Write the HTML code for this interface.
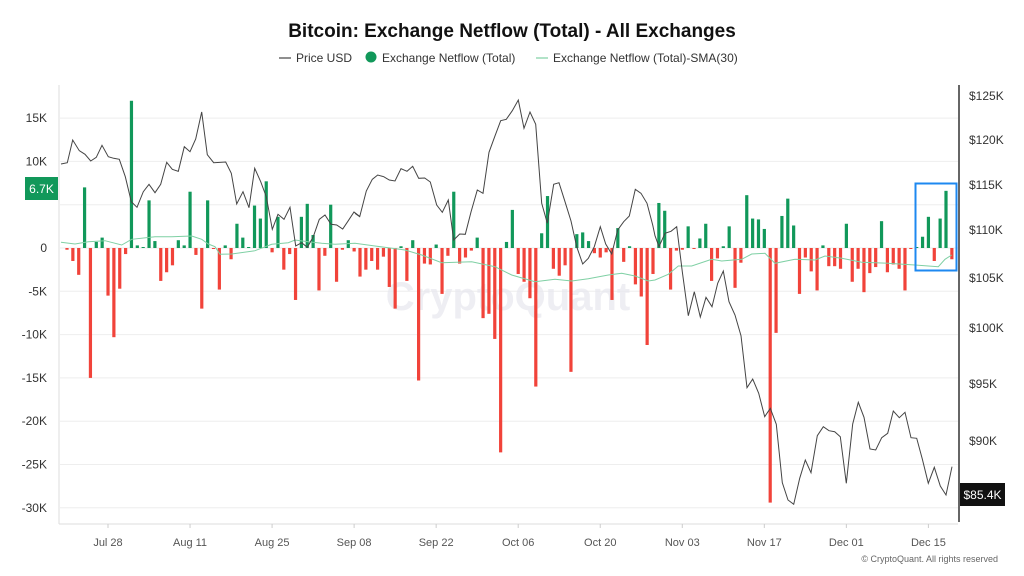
<!DOCTYPE html>
<html><head><meta charset="utf-8"><style>
body{margin:0;background:#fff;font-family:"Liberation Sans",sans-serif;}
svg{display:block}
</style></head><body>
<svg width="1024" height="576" viewBox="0 0 1024 576" xmlns="http://www.w3.org/2000/svg" font-family="Liberation Sans, sans-serif">
<rect width="1024" height="576" fill="#fff"/>
<text x="512" y="37" text-anchor="middle" font-size="19" font-weight="bold" fill="#111">Bitcoin: Exchange Netflow (Total) - All Exchanges</text>
<g font-size="12" fill="#333">
<line x1="279" y1="58" x2="291" y2="58" stroke="#444" stroke-width="1.2"/><text x="296" y="62">Price USD</text>
<circle cx="371" cy="57" r="5.5" fill="#11985a"/><text x="382" y="62">Exchange Netflow (Total)</text>
<line x1="536" y1="58" x2="548" y2="58" stroke="#7fd0a4" stroke-width="1.2"/><text x="553" y="62">Exchange Netflow (Total)-SMA(30)</text>
</g>
<g id="grid" stroke="#eeeeee" stroke-width="1"></g>
<text x="508" y="310" text-anchor="middle" font-size="40" font-weight="bold" fill="#e8e8ee" opacity="0.7">CryptoQuant</text>
<g id="bars"></g>
<polyline id="sma" fill="none" stroke="#7fd0a4" stroke-width="1"/>
<polyline id="price" fill="none" stroke="#444" stroke-width="1"/>
<line x1="59" y1="85" x2="59" y2="524" stroke="#ddd"/>
<line x1="59" y1="524" x2="958" y2="524" stroke="#ddd"/>
<line x1="959" y1="85" x2="959" y2="522" stroke="#333" stroke-width="1.5"/>
<g id="lt" font-size="12" fill="#333" text-anchor="end"></g>
<g id="rt" font-size="12" fill="#333"></g>
<g id="xt" font-size="11" fill="#555" text-anchor="middle"></g>
<rect x="25" y="177" width="33" height="23" fill="#11985a"/>
<text x="41.5" y="193" text-anchor="middle" font-size="12" fill="#fff">6.7K</text>
<rect x="960" y="483" width="45" height="23" fill="#111"/>
<text x="982.5" y="499" text-anchor="middle" font-size="12" fill="#fff">$85.4K</text>
<rect x="915.5" y="183.5" width="41" height="87" fill="none" stroke="#1e88f0" stroke-width="2"/>
<text x="998" y="562" text-anchor="end" font-size="9" fill="#666">© CryptoQuant. All rights reserved</text>
</svg>
<script>
var NS="http://www.w3.org/2000/svg";
function el(t,a,p){var e=document.createElementNS(NS,t);for(var k in a)e.setAttribute(k,a[k]);document.getElementById(p).appendChild(e);return e;}
var v=[-0.2,-1.5,-3.1,7.0,-15,0.7,1.2,-5.5,-10.3,-4.7,-0.7,17,0.3,0.1,5.5,0.8,-3.8,-2.8,-2,0.9,0.3,6.5,-0.8,-7,5.5,-0.1,-4.8,0.3,-1.3,2.8,1.2,0.1,4.9,3.4,7.7,-0.5,3.6,-2.5,-0.7,-6,3.6,5.1,1.5,-4.9,-0.9,5.0,-3.9,-0.2,0.9,-0.4,-3.3,
-2.5,-1.5,-2.5,-1,-4.5,-7,0.2,-3.8,0.9,-15.3,-1.8,-1.9,0.4,-5.3,-0.9,6.5,-1.8,-1.1,-0.3,1.2,-8.1,-7.6,-10.5,-23.6,0.7,4.4,-3,-3.9,-5.8,-16,1.7,6,-2.4,-3.2,-2,-14.3,1.6,1.8,0.8,-0.6,-1.1,-0.5,-6,2.3,-1.6,0.2,-4.2,-5.6,-11.2,-3,5.2,4.3,
-4.8,-0.3,-0.2,2.5,-0.1,1.1,2.8,-3.8,-1.2,0.2,2.5,-4.6,-1.7,6.1,3.4,3.3,2.2,-29.4,-9.8,3.7,5.7,2.6,-5.3,-1.1,-2.7,-4.9,0.3,-2.1,-2.1,-2.4,2.8,-3.9,-2.4,-5.1,-2.9,-2.2,3.1,-2.8,-1.9,-2.4,-4.9,-0.1,0.1,1.3,3.6,-1.5,3.4,6.6,-1.3];
var z=248,s=43.3/5;
v.forEach(function(q,i){var x=67+i*5.86,h=Math.max(Math.abs(q)*s,1);
el("rect",{x:x-1.6,y:q>=0?z-h:z,width:3.2,height:h,fill:q>=0?"#11985a":"#f1433a"},"bars");});
for(var k=15;k>=-30;k-=5){var y=z-k*s;el("line",{x1:60,x2:958,y1:y,y2:y},"grid");
if(k!=5){var t=el("text",{x:47,y:y+4},"lt");t.textContent=(k==0?"0":k+"K");}}
var rt=[[125,96],[120,140],[115,185],[110,230],[105,278],[100,328],[95,384],[90,441]];
rt.forEach(function(r){var t=el("text",{x:969,y:r[1]+4},"rt");t.textContent="$"+r[0]+"K";});
var xl=["Jul 28","Aug 11","Aug 25","Sep 08","Sep 22","Oct 06","Oct 20","Nov 03","Nov 17","Dec 01","Dec 15"];
xl.forEach(function(l,i){var x=108+i*82.04;el("line",{x1:x,x2:x,y1:524,y2:528,stroke:"#ccc"},"xt");var t=el("text",{x:x,y:546},"xt");t.textContent=l;});
function pts(arr,ox,oy){return arr.map(function(p){return (ox+p[0]/3).toFixed(1)+","+(oy+p[1]/3).toFixed(1);});}
var p1=[[18,222],[37,218],[53,150],[73,182],[90,193],[107,213],[124,202],[141,166],[160,200],[176,205],[193,208],[211,260],[229,335],[246,352],[265,305],[282,283],[300,308],[317,283],[335,217],[352,238],[370,244],[388,170],[405,185],[422,147],[440,66],[457,194],[476,218],[512,216],[529,250],[545,342],[564,305],[582,353],[599,235],[617,275],[634,320],[652,418],[669,373],[687,388],[705,352],[722,468],[740,458],[757,472],[775,440],[793,388],[810,375],[828,403],[845,405],[863,417],[880,392],[897,366],[915,380]];
var p2=[[0,370],[14,380],[34,303],[52,268],[68,255],[86,260],[103,270],[120,273],[138,236],[156,244],[173,229],[191,265],[209,264],[226,276],[245,345],[262,367],[280,330],[296,450],[314,432],[331,433],[348,366],[367,300],[384,310],[402,187],[419,140],[437,92],[454,88],[472,62],[490,30],[507,115],[525,66],[542,103],[560,340],[577,400],[596,283],[612,278],[630,335],[648,393],[665,470],[683,522],[700,505],[718,470],[736,410],[752,462],[770,492],[788,420],[806,395],[823,378],[841,298],[858,310],[876,340],[893,405]];
var p3=[[0,437],[12,470],[30,430],[48,424],[65,410],[82,545],[100,677],[118,605],[136,681],[153,622],[171,650],[188,580],[205,543],[222,635],[240,675],[258,737],[276,893],[293,867],[311,910],[329,980],[346,955],[364,1003],[382,1178],[399,1230],[416,1243],[434,1165],[451,1110],[468,1148],[487,1037],[505,1010],[522,1022],[539,1025],[556,1040],[574,1180],[593,1002],[610,937],[627,982],[645,1077],[662,1080],[680,1043],[698,1030],[715,963],[733,983],[750,967],[768,1043],[785,1045],[802,1107],[820,1180],[838,1132],[856,1188],[873,1215],[891,1130]];
document.getElementById("price").setAttribute("points",pts(p1,55,90).concat(pts(p2,355,90),pts(p3,655,90)).join(" "));
var s1=[[18,457],[60,462],[100,455],[150,452],[200,465],[230,448],[300,440],[350,440],[410,438],[440,448],[460,462],[480,470],[495,493],[530,492],[600,482],[650,463],[700,458],[720,450],[760,455],[800,460],[840,463],[900,460]];
var s2=[[0,460],[60,468],[150,480],[200,495],[260,518],[350,515],[420,530],[470,555],[540,575],[600,568],[650,573],[700,566],[760,555],[800,550],[840,558],[880,573]];
var s3=[[0,570],[40,553],[70,528],[110,528],[170,508],[200,513],[260,508],[290,492],[330,490],[360,520],[420,508],[480,510],[510,498],[560,505],[620,517],[700,520],[780,525],[850,530],[870,508],[890,495]];
document.getElementById("sma").setAttribute("points",pts(s1,55,90).concat(pts(s2,355,90),pts(s3,655,90)).join(" "));
</script>
</body></html>
